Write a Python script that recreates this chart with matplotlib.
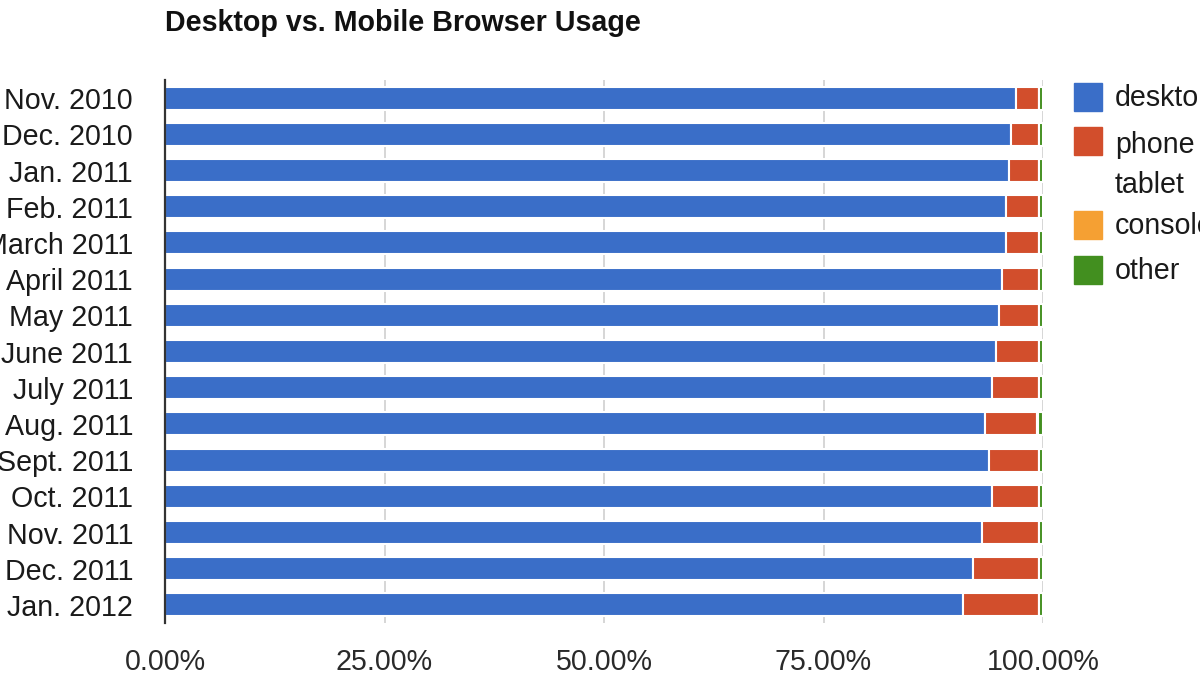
import matplotlib
matplotlib.use("Agg")
import matplotlib.pyplot as plt
from matplotlib.patches import Rectangle
from matplotlib.ticker import FuncFormatter

# Monthly share of browser usage (percent)
months = ["Nov. 2010", "Dec. 2010", "Jan. 2011", "Feb. 2011", "March 2011",
          "April 2011", "May 2011", "June 2011", "July 2011", "Aug. 2011",
          "Sept. 2011", "Oct. 2011", "Nov. 2011", "Dec. 2011", "Jan. 2012"]
desktop = [96.9, 96.4, 96.1, 95.8, 95.8, 95.3, 95.0, 94.7, 94.2, 93.4,
           93.9, 94.2, 93.1, 92.0, 90.9]
phone_tablet = [2.7, 3.2, 3.5, 3.8, 3.8, 4.3, 4.6, 4.9, 5.4, 5.9,
                5.7, 5.4, 6.5, 7.6, 8.7]
console = [0.0, 0.0, 0.0, 0.0, 0.0, 0.0, 0.0, 0.0, 0.0, 0.1,
           0.0, 0.0, 0.0, 0.0, 0.0]
other = [0.4, 0.4, 0.4, 0.4, 0.4, 0.4, 0.4, 0.4, 0.4, 0.6,
         0.4, 0.4, 0.4, 0.4, 0.4]

series_names = ["desktop", "phone\ntablet", "console", "other"]
series_colors = ["#3a6ec8", "#d24e2c", "#f5a033", "#428f1f"]

plt.rcParams['font.family'] = ['Liberation Sans', 'DejaVu Sans']
FS = 20.6

W, H = 1200, 675
fig = plt.figure(figsize=(12, 6.75), dpi=100)
ax = fig.add_axes([165 / W, 1 - 623 / H, (1043 - 165) / W, (623 - 80) / H])

y = list(range(len(months)))
left = [0.0] * len(months)
for vals, color in zip([desktop, phone_tablet, console, other], series_colors):
    ax.barh(y, vals, left=left, height=0.64, color=color, edgecolor="white",
            linewidth=1.5, zorder=2)
    left = [l + v for l, v in zip(left, vals)]

ax.set_xlim(0, 100)
ax.set_ylim(len(months) - 0.5, -0.5)
ax.set_yticks(y)
ax.set_yticklabels(months)
ax.set_xticks([0, 25, 50, 75, 100])
ax.xaxis.set_major_formatter(FuncFormatter(lambda v, p: f"{v:.2f}%"))
ax.tick_params(axis="y", length=0, pad=23, labelsize=FS, labelcolor="#1a1a1a")
ax.tick_params(axis="x", length=0, pad=18, labelsize=FS, labelcolor="#2a2a2a")

# Vertical grid lines
ax.grid(axis="x", color="#d0d0d0", linewidth=1.2, zorder=0)
ax.set_axisbelow(True)
for side in ["top", "right", "bottom"]:
    ax.spines[side].set_visible(False)
ax.spines["left"].set_color("#333333")
ax.spines["left"].set_linewidth(1.6)
ax.spines["left"].set_zorder(5)

fig.text(165 / W, 1 - 23 / H, "Desktop vs. Mobile Browser Usage",
         fontsize=FS, fontweight="bold", color="#111111", va="center", ha="left")

# Legend on the right, partly cut off by the figure edge like the original
legend_rows = [97, 141, 225, 270]
for name, color, ypix in zip(series_names, series_colors, legend_rows):
    fig.add_artist(Rectangle((1074 / W, 1 - (ypix + 14) / H), 28 / W, 28 / H,
                             transform=fig.transFigure, color=color))
    if "\n" in name:
        fig.text(1115 / W, 1 - (ypix - 10) / H, name, fontsize=FS, color="#1a1a1a",
                 va="top", ha="left", linespacing=1.55)
    else:
        fig.text(1115 / W, 1 - (ypix + 1) / H, name, fontsize=FS, color="#1a1a1a",
                 va="center", ha="left")

fig.savefig("out.png", dpi=100)
